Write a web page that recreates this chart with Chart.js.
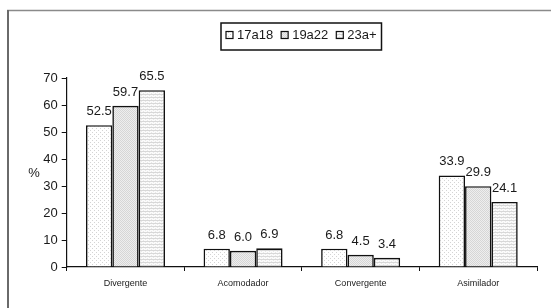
<!DOCTYPE html>
<html>
<head>
<meta charset="utf-8">
<script src="https://cdn.jsdelivr.net/npm/chart.js@4/dist/chart.umd.min.js"></script>
<style>
  html, body { margin: 0; padding: 0; background: #fff; }
  #wrap { width: 551px; height: 308px; position: relative; }
</style>
</head>
<body>
<div id="wrap"><canvas id="chart" width="551" height="308"></canvas></div>
<script>
// --- data ------------------------------------------------------------------
const CATEGORIES = ["Divergente", "Acomodador", "Convergente", "Asimilador"];
const SERIES = ["17a18", "19a22", "23a+"];
const V_17A18 = [52.5, 6.8, 6.8, 33.9];
const V_19A22 = [59.7, 6.0, 4.5, 29.9];
const V_23A = [65.5, 6.9, 3.4, 24.1];
const Y_TITLE = "%";

const FONT = "'Liberation Sans', Arial, sans-serif";
const INK = "#1a1a1a";

// --- fill patterns ---------------------------------------------------------
function pattern(w, h, paint) {
  const c = document.createElement("canvas");
  c.width = w; c.height = h;
  const g = c.getContext("2d");
  paint(g);
  return document.getElementById("chart").getContext("2d").createPattern(c, "repeat");
}
const FILLS = [
  // white, sparse dots
  pattern(4, 4, (g) => {
    g.fillStyle = "#fff"; g.fillRect(0, 0, 4, 4);
    g.fillStyle = "#d4d4d4"; g.fillRect(0, 0, 1, 1); g.fillRect(2, 2, 1, 1);
  }),
  // light grey, fine dots
  pattern(2, 2, (g) => {
    g.fillStyle = "#eeeeee"; g.fillRect(0, 0, 2, 2);
    g.fillStyle = "#d6d6d6"; g.fillRect(0, 0, 1, 1); g.fillRect(1, 1, 1, 1);
  }),
  // horizontal stripes
  pattern(4, 3, (g) => {
    g.fillStyle = "#fbfbfb"; g.fillRect(0, 0, 4, 3);
    g.fillStyle = "#d8d8d8"; g.fillRect(0, 1, 4, 1);
    g.fillStyle = "#e8e8e8"; g.fillRect(1, 2, 1, 1); g.fillRect(3, 0, 1, 1);
  }),
];

// --- plugins ---------------------------------------------------------------
const frame = {
  id: "frame",
  beforeDraw(chart) {
    const c = chart.ctx;
    c.save();
    c.strokeStyle = "#8a8a8a"; c.lineWidth = 1.5;
    c.beginPath(); c.moveTo(7, 10.5); c.lineTo(551, 10.5); c.stroke();
    c.strokeStyle = "#6a6a6a"; c.lineWidth = 2;
    c.beginPath(); c.moveTo(8, 10); c.lineTo(8, 308); c.stroke();
    c.restore();
  },
};

const valueLabels = {
  id: "valueLabels",
  afterDatasetsDraw(chart) {
    const c = chart.ctx;
    c.save();
    c.font = "13px " + FONT;
    c.fillStyle = INK;
    c.textAlign = "center";
    c.textBaseline = "alphabetic";
    chart.data.datasets.forEach((ds, i) => {
      chart.getDatasetMeta(i).data.forEach((bar, j) => {
        c.fillText(ds.data[j].toFixed(1), bar.x, bar.y - 10);
      });
    });
    c.restore();
  },
};

const sideBits = {
  id: "sideBits",
  afterDraw(chart) {
    const c = chart.ctx;
    c.save();
    // y title
    c.font = "13px " + FONT;
    c.fillStyle = INK;
    c.textAlign = "center";
    c.textBaseline = "middle";
    c.fillText(Y_TITLE, 34, 173);
    // legend box
    c.strokeStyle = "#111"; c.lineWidth = 1.5;
    c.strokeRect(221, 23, 160.5, 27);
    let x = 226;
    c.textAlign = "left";
    c.textBaseline = "middle";
    chart.data.datasets.forEach((ds) => {
      c.fillStyle = ds.backgroundColor;
      c.fillRect(x, 31.5, 7, 7);
      c.strokeStyle = "#111"; c.lineWidth = 1.2;
      c.strokeRect(x, 31.5, 7, 7);
      c.fillStyle = INK;
      c.fillText(ds.label, x + 11, 35.5);
      x += 11 + c.measureText(ds.label).width + 8;
    });
    c.restore();
  },
};

// --- chart -----------------------------------------------------------------
const values = [V_17A18, V_19A22, V_23A];
new Chart(document.getElementById("chart"), {
  type: "bar",
  data: {
    labels: CATEGORIES,
    datasets: SERIES.map((name, i) => ({
      label: name,
      data: values[i],
      backgroundColor: FILLS[i],
      borderColor: "#111",
      borderWidth: 1.6,
      borderSkipped: "bottom",
      categoryPercentage: 0.672,
      barPercentage: 1,
    })),
  },
  options: {
    responsive: false,
    animation: false,
    events: [],
    layout: { padding: { left: 16, right: 14, top: 78, bottom: 11 } },
    plugins: { legend: { display: false }, tooltip: { enabled: false } },
    scales: {
      x: {
        afterFit: (s) => { s.height = 30; },
        grid: { offset: true, drawOnChartArea: false, drawTicks: true, tickLength: 4, color: "#111", lineWidth: 1 },
        border: { display: true, color: "#111", width: 1.2 },
        ticks: { color: INK, padding: 7, font: { family: FONT, size: 9 }, maxRotation: 0 },
      },
      y: {
        min: 0, max: 70,
        afterFit: (s) => { s.width = 50.7; },
        grid: { drawOnChartArea: false, drawTicks: true, tickLength: 5, color: "#111", lineWidth: 1 },
        border: { display: true, color: "#111", width: 1.2 },
        ticks: { stepSize: 10, color: INK, padding: 4, font: { family: FONT, size: 13 } },
      },
    },
  },
  plugins: [frame, valueLabels, sideBits],
});
</script>
</body>
</html>
